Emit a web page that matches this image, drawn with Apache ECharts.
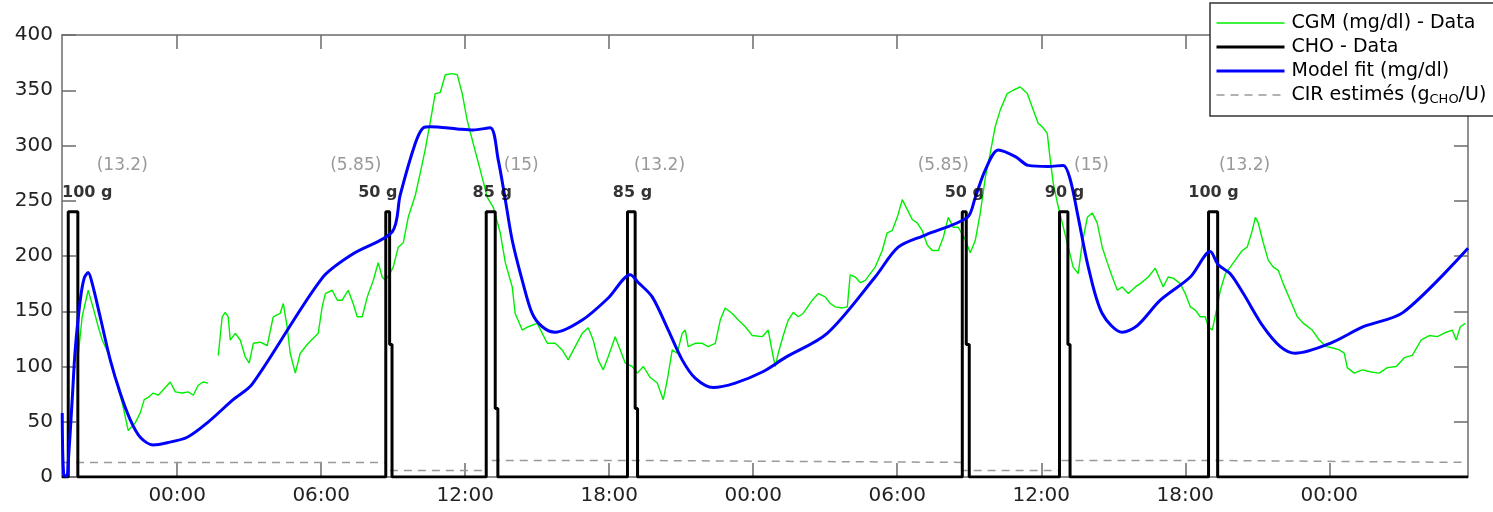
<!DOCTYPE html>
<html>
<head>
<meta charset="utf-8">
<title>CGM, CHO et modèle</title>
<script src="https://cdn.jsdelivr.net/npm/echarts@6/dist/echarts.min.js"></script>
<style>
  html, body { margin: 0; padding: 0; background: #fff; }
  #chart { width: 1493px; height: 512px; }
</style>
</head>
<body>
<div id="chart"></div>
<script>
// Time is in hours from the first midnight shown on the axis.
const tickHours = [0, 6, 12, 18, 24, 30, 36, 42, 48];

// CGM measurements (mg/dl); null marks the sensor gap.
const cgmHours = [-4.125,-3.96,-3.71,-3.5,-3.29,-3.125,-2.875,-2.58,-2.29,-2.04,-1.75,-1.54,-1.375,-1.21,-1.0,-0.79,-0.58,-0.29,-0.08,0.21,0.46,0.67,0.875,1.08,1.29,1.5,
  1.71,1.875,2.0,2.125,2.21,2.42,2.625,2.83,3.0,3.17,3.46,3.75,4.0,4.29,4.42,4.58,4.71,4.92,5.125,5.46,5.875,6.04,6.17,6.46,6.67,6.875,7.125,7.33,7.5,7.71,7.92,8.17,8.375,8.54,8.67,8.83,9.0,9.21,9.42,9.625,9.92,
  10.125,10.33,10.54,10.75,10.96,11.17,11.46,11.67,11.875,12.08,12.33,12.625,12.92,13.17,13.46,13.67,13.96,14.08,14.375,14.625,15.0,15.21,15.42,15.75,16.04,16.29,16.58,16.875,17.125,17.33,17.54,17.75,17.96,
  18.25,18.46,18.67,18.96,19.17,19.42,19.71,20.0,20.25,20.42,20.625,20.83,21.04,21.17,21.29,21.58,21.875,22.125,22.42,22.625,22.83,23.125,23.375,23.67,23.96,24.375,24.625,24.83,24.92,25.04,25.25,25.46,25.67,25.875,
  26.08,26.46,26.71,27.0,27.21,27.42,27.71,27.92,28.04,28.25,28.46,28.67,28.875,29.08,29.375,29.58,29.79,30.0,30.21,30.42,30.625,30.83,31.04,31.25,31.46,31.71,31.92,32.125,32.33,32.54,32.83,33.04,33.25,33.46,33.67,
  33.875,34.08,34.29,34.58,34.83,35.125,35.42,35.67,35.875,36.04,36.25,36.375,36.5,36.67,36.875,37.125,37.33,37.54,37.71,37.92,38.125,38.33,38.54,38.75,38.96,39.17,39.375,39.625,39.92,40.125,40.46,40.75,40.96,
  41.08,41.29,41.5,41.79,42.0,42.21,42.42,42.625,42.83,42.96,43.125,43.33,43.46,43.67,43.875,44.17,44.375,44.58,44.79,44.92,45.04,45.25,45.46,45.67,45.875,46.08,46.375,46.67,46.92,47.29,47.58,47.875,48.125,48.42,
  48.625,48.75,49.04,49.375,49.75,50.08,50.42,50.79,51.125,51.46,51.83,52.17,52.5,52.875,53.125,53.29,53.46,53.67];
const cgmMgdl = [110,145,169,153,136,124,112,90,67,42,49,58,70,72,76,74,79,86,77,76,77,74,83,86,85,null,
  110,145,149,145,124,130,124,109,103,121,122,119,145,148,157,136,112,94,112,121,130,154,166,169,160,160,169,157,145,145,163,178,194,181,178,183,190,208,212,235,255,
  275,296,321,347,348,364,365,364,347,323,302,278,253,244,221,194,172,148,133,136,139,130,121,121,115,106,118,130,135,124,106,97,109,
  127,115,103,100,94,100,90,85,70,88,115,112,130,133,118,121,121,118,121,142,153,148,142,136,128,127,133,109,100,112,128,142,149,145,
  148,160,166,163,157,154,153,154,183,181,176,178,184,190,205,221,223,235,251,242,233,230,223,210,205,205,217,235,226,226,215,203,214,239,271,
  293,317,332,347,350,353,347,332,320,317,311,287,266,248,230,208,190,184,212,235,239,230,208,194,181,169,172,166,172,175,181,189,178,
  172,181,180,175,166,154,151,145,145,136,133,154,169,184,190,199,205,208,223,235,230,212,196,190,187,175,160,145,139,133,124,118,117,115,
  112,99,94,97,95,94,99,100,108,110,124,128,127,131,133,124,136,139];

// Model fit (mg/dl)
const fitHours = [-4.79,-4.73,-4.6,-4.54,-4.375,-4.25,-4.04,-3.875,-3.71,-3.54,-3.21,-2.79,-2.375,-1.96,-1.54,-1.0,-0.42,0.42,1.25,2.33,3.125,6.04,7.33,8.96,9.29,9.92,
  10.25,10.54,11.67,12.33,13.04,13.375,13.67,13.96,14.375,14.79,15.21,15.75,16.875,17.96,18.875,19.21,19.79,20.46,21.04,21.58,22.33,23.25,24.375,25.33,27.08,29.08,30.04,31.17,
  32.92,33.25,33.67,34.21,34.92,35.46,36.29,36.92,37.21,37.54,37.96,38.54,39.375,40.0,40.96,42.21,43.04,43.375,43.875,44.42,45.25,45.96,46.58,48.04,49.42,51.08,53.78];
const fitMgdl = [58,2,1,13,70,115,160,180,185,175,145,106,76,52,36,29,31,36,49,70,84,180,202,222,255,302,
  316,317,315,314,316,287,251,214,178,148,136,131,142,162,183,176,163,133,106,89.5,81,85,95,108,130,181,208,219,
  235,253,278,296,290,282,281,282,269,235,190,148,131,137,160,181,204,192,184,166,136,118,112,121,136,149,207];

// Meals: carbohydrate pulse (start, end of full level, tail level, end) and estimated CIR
const mealStart   = [-4.54, 8.69, 12.875, 18.76, 32.71, 36.76, 42.97];
const mealTopEnd  = [-4.14, 8.85, 13.25, 19.08, 32.875, 37.11, 43.35];
const mealTailVal = [0, 120, 62, 62, 120, 120, 0];
const mealEnd     = [-4.14, 8.95, 13.36, 19.18, 33.0, 37.2, 43.35];
const mealGrams   = [100, 50, 85, 85, 50, 90, 100];
const mealCir     = [13.2, 5.85, 15, 13.2, 5.85, 15, 13.2];
const choLevel = 240;

const X_MIN = -4.8, X_MAX = 53.78;
const FONT = 'DejaVu Sans';

// label placement (pixels, relative to the left edge of each pulse)
const gramDx = [19, -8, 6, 5, 2, 5, 5];
const cirDx = [54, -30, 35, 32, -19, 32, 36];

const cgmData = cgmHours.map((h, i) => [h, cgmMgdl[i]]);
const fitData = fitHours.map((h, i) => [h, fitMgdl[i]]);

const choData = [[X_MIN, 0]];
mealStart.forEach((t, i) => {
  choData.push([t, 0], [t, choLevel], [mealTopEnd[i], choLevel], [mealTopEnd[i], mealTailVal[i]],
               [mealEnd[i], mealTailVal[i]], [mealEnd[i], 0]);
});
choData.push([X_MAX, 0]);

const cirData = [[X_MIN, mealCir[0]]];
mealStart.forEach((t, i) => cirData.push([t, mealCir[i]]));
cirData.push([X_MAX, mealCir[mealCir.length - 1]]);

const gramLabels = mealStart.map((t, i) => ({
  value: [t, choLevel],
  label: { offset: [gramDx[i], -19] },
  name: mealGrams[i] + ' g'
}));
const cirLabels = mealStart.map((t, i) => ({
  value: [t, choLevel],
  label: { offset: [cirDx[i], -46] },
  name: '(' + mealCir[i] + ')'
}));

const NAMES = {
  cgm: 'CGM (mg/dl) - Data',
  cho: 'CHO - Data',
  fit: 'Model fit (mg/dl)',
  cir: 'CIR estimés (gCHO/U)'
};

const axisColor = '#6b6b6b';
const fmtHour = v => String(((v % 24) + 24) % 24).padStart(2, '0') + ':00';

const frameX = (pos, labels) => ({
  type: 'value', min: X_MIN, max: X_MAX, position: pos,
  axisLine: { show: true, onZero: false, lineStyle: { color: axisColor, width: 1.5 } },
  axisTick: { show: true, inside: true, length: 14, customValues: tickHours, lineStyle: { color: axisColor, width: 1.5 } },
  axisLabel: labels ? { show: true, customValues: tickHours, formatter: fmtHour, color: '#222', fontSize: 20, fontFamily: FONT, margin: 9 } : { show: false },
  splitLine: { show: false }
});
const frameY = (pos, labels) => ({
  type: 'value', min: 0, max: 400, interval: 50, position: pos,
  axisLine: { show: true, onZero: false, lineStyle: { color: axisColor, width: 1.5 } },
  axisTick: { show: true, inside: true, length: 14, lineStyle: { color: axisColor, width: 1.5 } },
  axisLabel: labels ? { show: true, color: '#222', fontSize: 20, fontFamily: FONT, margin: 9 } : { show: false },
  splitLine: { show: false }
});

const chart = echarts.init(document.getElementById('chart'), null, { renderer: 'canvas' });
chart.setOption({
  animation: false,
  backgroundColor: '#fff',
  grid: { left: 62, right: 25, top: 35, bottom: 35 },
  xAxis: [frameX('bottom', true), frameX('top', false)],
  yAxis: [frameY('left', true), frameY('right', false)],
  legend: {
    orient: 'vertical',
    left: 1210, top: 3,
    padding: [10, 8, 10, 5],
    itemGap: 4,
    itemWidth: 68, itemHeight: 14,
    data: [NAMES.cgm, NAMES.cho, NAMES.fit, NAMES.cir],
    backgroundColor: '#fff',
    borderColor: '#333', borderWidth: 1.5,
    itemStyle: { opacity: 0 },
    lineStyle: { width: 'inherit' },
    textStyle: {
      color: '#000', fontSize: 19, fontFamily: FONT, lineHeight: 20, padding: [0, 0, 0, 2],
      rich: { sub: { fontSize: 13, fontFamily: FONT, color: '#000', padding: [9, 0, 0, 0] } }
    },
    formatter: name => name === NAMES.cir ? 'CIR estimés (g{sub|CHO}/U)' : name
  },
  series: [
    {
      name: NAMES.cgm, type: 'line', data: cgmData, showSymbol: false, symbol: 'none',
      connectNulls: false, lineStyle: { color: '#00ee00', width: 1.4 }, itemStyle: { color: '#00ee00' }, z: 2
    },
    {
      name: NAMES.cho, type: 'line', data: choData, showSymbol: false, symbol: 'none',
      lineStyle: { color: '#000', width: 3 }, itemStyle: { color: '#000' }, z: 3
    },
    {
      name: NAMES.fit, type: 'line', data: fitData, showSymbol: false, symbol: 'none', smooth: 0.3,
      lineStyle: { color: '#0000ff', width: 3 }, itemStyle: { color: '#0000ff' }, z: 4
    },
    {
      name: NAMES.cir, type: 'line', data: cirData, step: 'end', showSymbol: false, symbol: 'none',
      lineStyle: { color: '#999', width: 1.5, type: [8, 6] }, itemStyle: { color: '#999' }, z: 2
    },
    {
      type: 'scatter', data: gramLabels, symbolSize: 1, itemStyle: { color: 'rgba(0,0,0,0)' }, z: 5,
      label: { show: true, position: 'inside', formatter: p => p.name, color: '#000', fontSize: 16, fontWeight: 'bold', fontFamily: FONT },
      silent: true
    },
    {
      type: 'scatter', data: cirLabels, symbolSize: 1, itemStyle: { color: 'rgba(0,0,0,0)' }, z: 5,
      label: { show: true, position: 'inside', formatter: p => p.name, color: '#808080', fontSize: 17, fontFamily: FONT },
      silent: true
    }
  ]
});
</script>
</body>
</html>
